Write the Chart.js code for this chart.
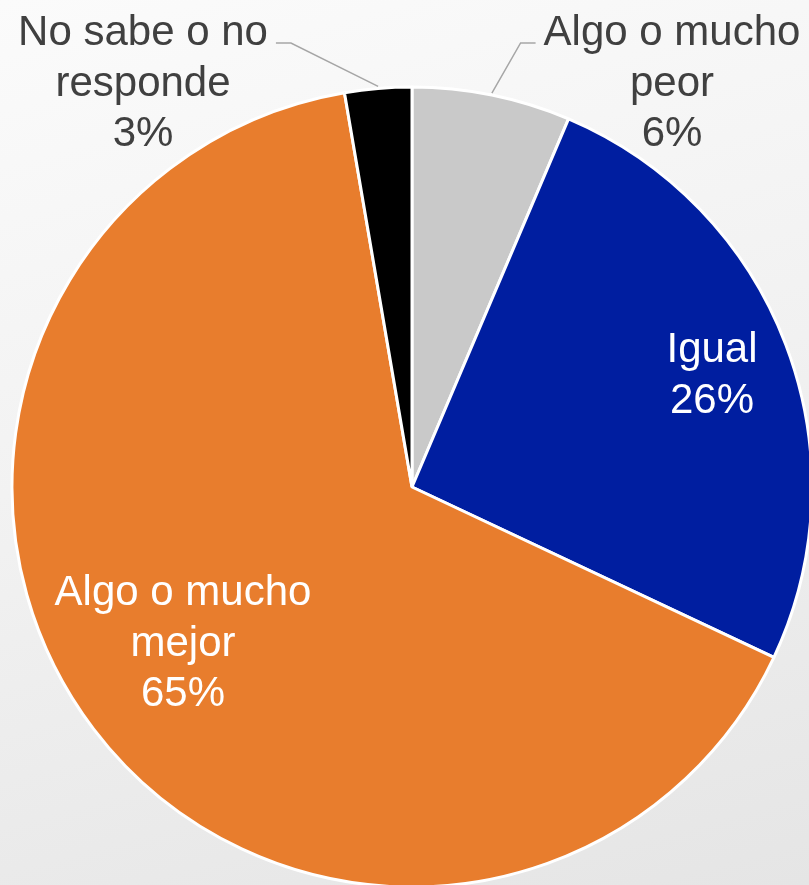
<!DOCTYPE html>
<html>
<head>
<meta charset="utf-8">
<script src="https://cdn.jsdelivr.net/npm/chart.js@4.4.1/dist/chart.umd.min.js"></script>
<style>
  html, body { margin: 0; padding: 0; }
  body {
    width: 809px; height: 885px; overflow: hidden;
    background: linear-gradient(165deg, #fbfbfb 0%, #f1f1f1 50%, #e5e5e5 100%);
  }
  #wrap { position: relative; width: 809px; height: 885px; }
</style>
</head>
<body>
<div id="wrap"><canvas id="graphic-pie" width="809" height="885"></canvas></div>
<script>
// data
var categorias = [['Algo o mucho', 'peor'], ['Igual'], ['Algo o mucho', 'mejor'], ['No sabe o no', 'responde']];
var valores = [6.4, 25.6, 65.3, 2.7];
var cores = ['#c9c9c9', '#001ea0', '#e87d2d', '#000000'];

// label placement (first baseline, in radius units from centre) and styling
var posLabel = [[0.65, -1.105], [0.75, -0.3125], [-0.5725, 0.295], [-0.6725, -1.105]];
var corLabel = ['#404040', '#ffffff', '#ffffff', '#404040'];
var leader = [true, false, false, true];

const dataGraphicPie = document.getElementById('graphic-pie');

const labelsPlugin = {
    id: 'labelsPlugin',
    afterDatasetsDraw(chart) {
        const ctx = chart.ctx;
        const meta = chart.getDatasetMeta(0);
        ctx.save();
        ctx.font = '42px "Liberation Sans", Arial, sans-serif';
        ctx.textAlign = 'center';
        ctx.textBaseline = 'alphabetic';
        meta.data.forEach(function(arc, i) {
            const r = arc.outerRadius;
            const cx = arc.x, cy = arc.y;
            const lx = cx + posLabel[i][0] * r;
            const ly = cy + posLabel[i][1] * r;
            const lines = categorias[i].concat([Math.round(valores[i]) + '%']);
            ctx.fillStyle = corLabel[i];
            lines.forEach(function(t, k) {
                ctx.fillText(t, lx, ly + k * 50.5);
            });
            if (leader[i]) {
                const mid = (arc.startAngle + arc.endAngle) / 2;
                const px = cx + Math.cos(mid) * r;
                const py = cy + Math.sin(mid) * r;
                const w = ctx.measureText(lines[0]).width;
                const side = px > lx ? 1 : -1;
                const ex = lx + side * (w / 2 + 8);
                const ey = ly - 2;
                ctx.strokeStyle = '#a6a6a6';
                ctx.lineWidth = 1.5;
                ctx.beginPath();
                ctx.moveTo(ex, ey);
                ctx.lineTo(ex + side * 15, ey);
                ctx.lineTo(px, py - 2);
                ctx.stroke();
            }
        });
        ctx.restore();
    }
};

new Chart(dataGraphicPie, {
    type: 'pie',
    data: {
        labels: categorias.map(function(c) { return c.join(' '); }),
        datasets: [{
            data: valores,
            backgroundColor: cores,
            borderColor: '#ffffff',
            borderWidth: 3,
            clip: false
        }]
    },
    options: {
        responsive: false,
        maintainAspectRatio: false,
        animation: false,
        radius: 400,
        layout: {
            padding: { left: 15, right: 0, top: 89, bottom: 0 }
        },
        plugins: {
            legend: { display: false },
            tooltip: { enabled: false }
        }
    },
    plugins: [labelsPlugin]
});
</script>
</body>
</html>
